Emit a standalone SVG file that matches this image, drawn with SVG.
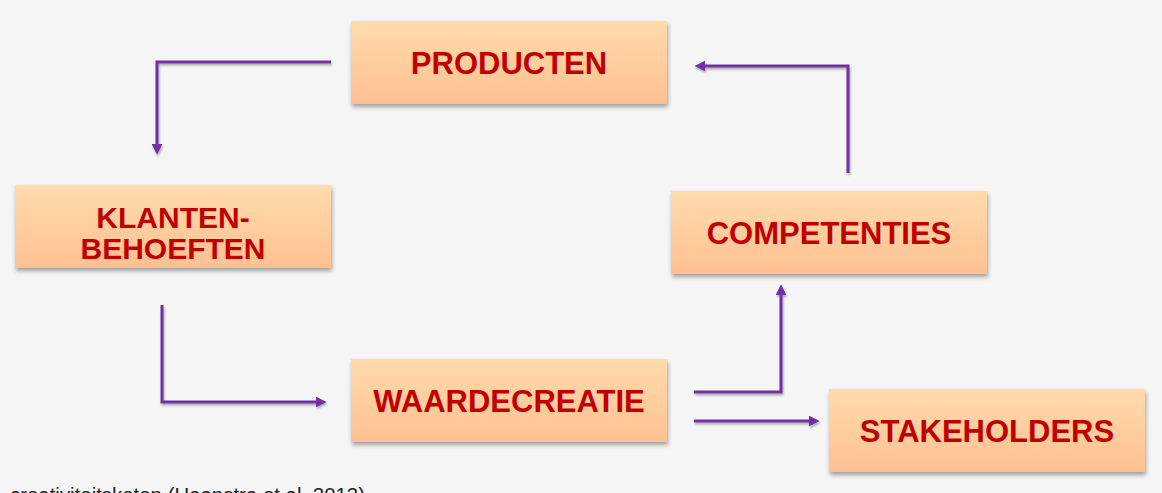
<svg xmlns="http://www.w3.org/2000/svg" width="1162" height="493" viewBox="0 0 1162 493">
  <style>
    .box { fill: url(#boxGrad); filter: url(#shadow); }
    .lbl { font-family: "Liberation Sans", Arial, sans-serif; font-weight: bold; font-size: 31px; fill: #C00000; text-anchor: middle; }
    .lbl2 { font-size: 30px; }
    .conn { fill: none; stroke: #7030A0; stroke-width: 3; stroke-linejoin: miter; marker-end: url(#arrow); filter: url(#lshadow); }
    .note { font-family: "Liberation Sans", Arial, sans-serif; font-size: 20px; fill: #222; }
  </style>
  <defs>
    <linearGradient id="boxGrad" x1="0" y1="0" x2="0" y2="1">
      <stop offset="0" stop-color="#FFDBAD"/>
      <stop offset="1" stop-color="#FFC091"/>
    </linearGradient>
    <filter id="shadow" x="-5%" y="-10%" width="115%" height="130%">
      <feDropShadow dx="1" dy="3" stdDeviation="2" flood-color="#000" flood-opacity="0.35"/>
    </filter>
    <filter id="lshadow" filterUnits="userSpaceOnUse" x="0" y="0" width="1162" height="493">
      <feDropShadow dx="1" dy="2" stdDeviation="1.2" flood-color="#000" flood-opacity="0.3"/>
    </filter>
    <marker id="arrow" viewBox="0 0 10 10" refX="2" refY="5" markerWidth="3.6" markerHeight="3.6" orient="auto" markerUnits="strokeWidth">
      <path d="M0,0 L10,5 L0,10 Z" fill="#7030A0"/>
    </marker>
  </defs>
  <rect width="1162" height="493" fill="#F5F5F5"/>

  <g id="connectors">
    <path class="conn" d="M331,62 H157 V146"/>
    <path class="conn" d="M162,305 V402 H318"/>
    <path class="conn" d="M694,392 H781 V293"/>
    <path class="conn" d="M694,421 H811"/>
    <path class="conn" d="M848,173 V66 H703"/>
  </g>

  <g id="producten">
    <rect class="box" x="351" y="21" width="316" height="83"/>
    <text class="lbl" x="509" y="74">PRODUCTEN</text>
  </g>
  <g id="klantenbehoeften">
    <rect class="box" x="15" y="185" width="316" height="83"/>
    <text class="lbl lbl2" x="173" y="228">KLANTEN-</text>
    <text class="lbl lbl2" x="173" y="259">BEHOEFTEN</text>
  </g>
  <g id="competenties">
    <rect class="box" x="671" y="191" width="316" height="83"/>
    <text class="lbl" x="829" y="244">COMPETENTIES</text>
  </g>
  <g id="waardecreatie">
    <rect class="box" x="351" y="359" width="316" height="83"/>
    <text class="lbl" x="509" y="412">WAARDECREATIE</text>
  </g>
  <g id="stakeholders">
    <rect class="box" x="829" y="389" width="316" height="83"/>
    <text class="lbl" x="987" y="442">STAKEHOLDERS</text>
  </g>

  <text class="note" x="10" y="502" textLength="355" lengthAdjust="spacingAndGlyphs">creativiteitsketen (Haanstra et al. 2013)</text>
</svg>
